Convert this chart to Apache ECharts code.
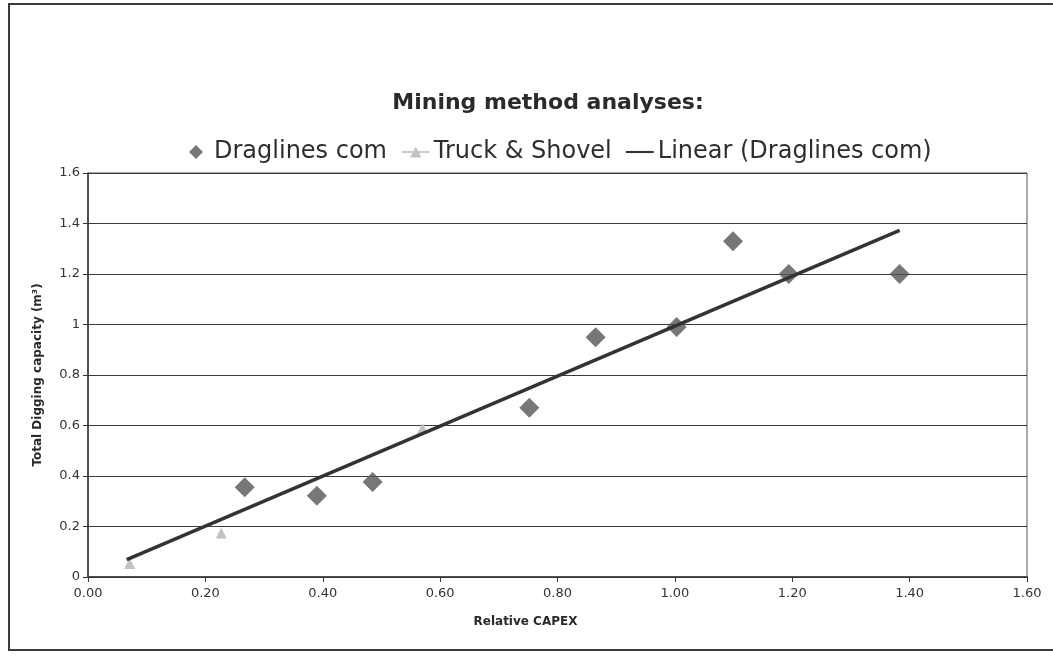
<!DOCTYPE html>
<html>
<head>
<meta charset="utf-8">
<script src="https://cdn.jsdelivr.net/npm/echarts@6/dist/echarts.min.js"></script>
<style>
html,body{margin:0;padding:0;background:#fff;}
#c{width:1053px;height:656px;}
</style>
</head>
<body>
<div id="c"></div>
<script>
// Data
const titleText = 'Mining method analyses:';
const draglinesX = [0.267, 0.390, 0.485, 0.752, 0.865, 1.003, 1.099, 1.194, 1.383];
const draglinesY = [0.355, 0.322, 0.376, 0.670, 0.950, 0.990, 1.330, 1.200, 1.200];
const truckX = [0.071, 0.227, 0.570];
const truckY = [0.053, 0.174, 0.588];
const trendXRange = [0.066, 1.383];
const xTicks = [0, 0.2, 0.4, 0.6, 0.8, 1.0, 1.2, 1.4, 1.6];
const yTicks = [0, 0.2, 0.4, 0.6, 0.8, 1.0, 1.2, 1.4, 1.6];

// Linear least-squares fit of the Draglines series (Excel "Linear" trendline)
function linFit(xs, ys) {
  const n = xs.length;
  const mx = xs.reduce((a, b) => a + b, 0) / n;
  const my = ys.reduce((a, b) => a + b, 0) / n;
  let sxy = 0, sxx = 0;
  for (let i = 0; i < n; i++) { sxy += (xs[i] - mx) * (ys[i] - my); sxx += (xs[i] - mx) ** 2; }
  const b = sxy / sxx;
  return { a: my - b * mx, b: b };
}
const fit = linFit(draglinesX, draglinesY);
const trendData = trendXRange.map(x => [x, fit.a + fit.b * x]);

const font = '"DejaVu Sans", "Liberation Sans", Arial, sans-serif';
const chart = echarts.init(document.getElementById('c'), null, { renderer: 'canvas' });
chart.setOption({
  animation: false,
  backgroundColor: '#ffffff',
  textStyle: { fontFamily: font },
  title: {
    text: titleText,
    left: 543, top: 87, textAlign: 'center',
    textStyle: { fontFamily: font, fontSize: 22, fontWeight: 'bold', color: '#2a2a2a' }
  },
  legend: {
    left: 184, top: 135,
    itemWidth: 28, itemHeight: 14, itemGap: 14,
    textStyle: { fontFamily: font, fontSize: 24, color: '#2e2e2e', padding: [0, 0, 0, -1] },
    data: [
      { name: 'Draglines com', icon: 'path://M7,0 L14,7 L7,14 L0,7 Z', itemStyle: { color: '#555' } },
      { name: 'Truck & Shovel', lineStyle: { color: '#b8b8b8', width: 1.5, opacity: 1 } },
      { name: 'Linear (Draglines com)', icon: 'path://M0,0 L40,0 L40,3 L0,3 Z', itemStyle: { color: '#333' } }
    ]
  },
  grid: { left: 88, right: 26, top: 173, bottom: 79, show: true, borderColor: '#555', borderWidth: 1 },
  xAxis: {
    type: 'value', min: xTicks[0], max: xTicks[xTicks.length - 1], interval: 0.2,
    name: 'Relative CAPEX', nameLocation: 'middle', nameGap: 39,
    nameTextStyle: { fontFamily: font, fontSize: 12, fontWeight: 'bold', color: '#2a2a2a', padding: [0, 64, 0, 0] },
    axisLine: { show: true, lineStyle: { color: '#333', width: 1.5 } },
    axisTick: { show: true, inside: false, length: 5, lineStyle: { color: '#333' } },
    axisLabel: { fontFamily: font, fontSize: 13, color: '#333', margin: 10, formatter: v => v.toFixed(2) },
    splitLine: { show: false }
  },
  yAxis: {
    type: 'value', min: yTicks[0], max: yTicks[yTicks.length - 1], interval: 0.2,
    name: 'Total Digging capacity (m³)', nameLocation: 'middle', nameGap: 44, nameRotate: 90,
    nameTextStyle: { fontFamily: font, fontSize: 12, fontWeight: 'bold', color: '#2a2a2a' },
    axisLine: { show: true, lineStyle: { color: '#333', width: 1.5 } },
    axisTick: { show: true, inside: false, length: 5, lineStyle: { color: '#333' } },
    axisLabel: { fontFamily: font, fontSize: 13, color: '#333', margin: 8, formatter: v => String(+v.toFixed(1)) },
    splitLine: { show: true, lineStyle: { color: '#3a3a3a', width: 1.2 } }
  },
  series: [
    {
      name: 'Draglines com', type: 'scatter', symbol: 'diamond', symbolSize: 20,
      itemStyle: { color: '#555' }, z: 3,
      data: draglinesX.map((x, i) => [x, draglinesY[i]])
    },
    {
      name: 'Truck & Shovel', type: 'line', symbol: 'triangle', symbolSize: 11, showSymbol: true,
      itemStyle: { color: '#c2c2c2' }, lineStyle: { color: '#c8c8c8', width: 1, opacity: 0 }, z: 2,
      data: truckX.map((x, i) => [x, truckY[i]])
    },
    {
      name: 'Linear (Draglines com)', type: 'line', symbol: 'none',
      lineStyle: { color: '#333', width: 3.5 }, itemStyle: { color: '#333' }, z: 4,
      data: trendData
    }
  ],
  graphic: [
    { type: 'rect', shape: { x: 9, y: 4, width: 1060, height: 646 }, style: { fill: 'none', stroke: '#3a3a3a', lineWidth: 2 }, silent: true }
  ]
});
</script>
</body>
</html>
